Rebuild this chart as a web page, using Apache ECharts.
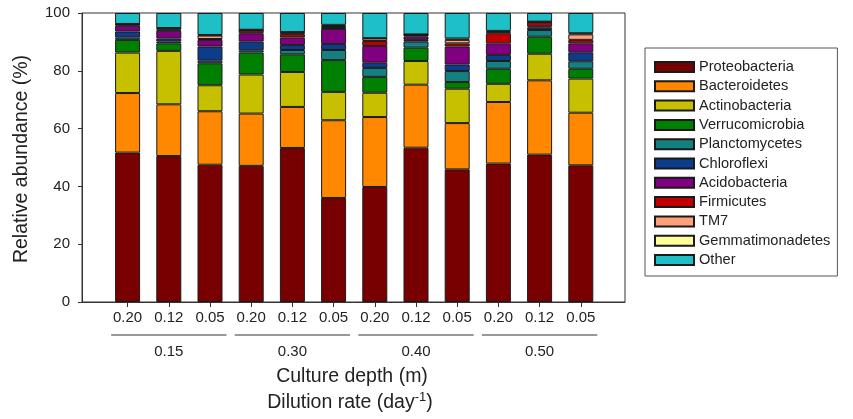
<!DOCTYPE html>
<html>
<head>
<meta charset="utf-8">
<script src="https://cdn.jsdelivr.net/npm/echarts@6/dist/echarts.min.js"></script>
<style>
  html, body { margin: 0; padding: 0; background: #fff; }
  #chart { width: 853px; height: 419px; }
</style>
</head>
<body>
<div id="chart"></div>
<script>
// Dilution rate (day-1) for each culture, grouped by culture depth (m)
const dilutionRates = ['0.20', '0.12', '0.05', '0.20', '0.12', '0.05', '0.20', '0.12', '0.05', '0.20', '0.12', '0.05'];
const depthGroups = ['0.15', '0.30', '0.40', '0.50'];
const depthRanges = [[0, 2], [3, 5], [6, 8], [9, 11]];

// Relative abundance (%) per phylum
const proteobacteria   = [51.7, 50.5, 47.5, 47.1, 53.3, 36.0, 39.8, 53.4, 45.9, 47.9, 51.0, 47.3];
const bacteroidetes    = [20.6, 17.9, 18.5, 18.1, 14.2, 26.9, 24.2, 21.8, 16.0, 21.3, 25.7, 18.2];
const actinobacteria   = [14.0, 18.5,  9.0, 13.5, 12.1,  9.8,  8.4,  8.2, 11.9,  6.3,  9.2, 11.8];
const verrucomicrobia  = [ 4.4,  2.6,  7.6,  7.6,  6.1, 11.0,  5.5,  4.6,  2.3,  5.2,  5.9,  3.4];
const planctomycetes   = [ 0.8,  0.6,  0.9,  0.8,  1.5,  3.5,  3.1,  2.1,  3.8,  2.7,  2.3,  2.6];
const chloroflexi      = [ 2.1,  1.1,  4.9,  3.0,  1.7,  2.1,  1.8,  0.6,  2.3,  2.1,  0.9,  3.1];
const acidobacteria    = [ 2.0,  2.7,  2.3,  2.9,  2.6,  5.2,  5.8,  1.1,  6.2,  4.0,  0.4,  3.1];
const firmicutes       = [ 0.4,  0.3,  0.3,  1.0,  1.2,  0.3,  1.7,  0.6,  1.1,  3.5,  1.4,  1.2];
const tm7              = [ 0.1,  0.5,  1.2,  0.1,  0.6,  0.7,  0.9,  0.1,  1.2,  0.5,  0.1,  1.9];
const gemmatimonadetes = [ 0.1,  0.1,  0.2,  0.1,  0.1,  0.4,  0.1,  0.1,  0.5,  0.3,  0.1,  0.4];
const other            = [ 3.8,  5.2,  7.6,  5.8,  6.6,  4.1,  8.7,  7.4,  8.8,  6.2,  3.0,  7.0];

const phyla = [
  { name: 'Proteobacteria',   data: proteobacteria,   color: '#780000' },
  { name: 'Bacteroidetes',    data: bacteroidetes,    color: '#ff8800' },
  { name: 'Actinobacteria',   data: actinobacteria,   color: '#c6c000' },
  { name: 'Verrucomicrobia',  data: verrucomicrobia,  color: '#008000' },
  { name: 'Planctomycetes',   data: planctomycetes,   color: '#158080' },
  { name: 'Chloroflexi',      data: chloroflexi,      color: '#0d3c8a' },
  { name: 'Acidobacteria',    data: acidobacteria,    color: '#800080' },
  { name: 'Firmicutes',       data: firmicutes,       color: '#c00000' },
  { name: 'TM7',              data: tm7,              color: '#ffa07a' },
  { name: 'Gemmatimonadetes', data: gemmatimonadetes, color: '#ffff99' },
  { name: 'Other',            data: other,            color: '#1fbfc8' }
];

const FONT = '"Liberation Sans", Arial, sans-serif';
const INK = '#222';

const chart = echarts.init(document.getElementById('chart'), null, { renderer: 'canvas' });

const barSeries = phyla.map(p => ({
  name: p.name,
  type: 'bar',
  xAxisIndex: 1,
  yAxisIndex: 1,
  stack: 'abundance',
  barWidth: 25,
  data: p.data,
  itemStyle: { color: p.color, borderColor: '#1a1a1a', borderWidth: 1 },
  emphasis: { disabled: true },
  animation: false
}));

// depth group rules and labels under the dilution-rate labels
const depthSeries = {
  type: 'custom',
  xAxisIndex: 1,
  yAxisIndex: 1,
  clip: false,
  silent: true,
  animation: false,
  encode: { x: 0, y: 1 },
  data: depthRanges,
  renderItem: function (params, api) {
    const s = api.coord([api.value(0), 0]);
    const e = api.coord([api.value(1), 0]);
    const band = api.size([1, 0])[0];
    const x1 = s[0] - band * 0.4;
    const x2 = e[0] + band * 0.4;
    const y = s[1];
    return {
      type: 'group',
      children: [
        { type: 'line', shape: { x1: x1, y1: y + 33, x2: x2, y2: y + 33 },
          style: { stroke: '#333', lineWidth: 1 } },
        { type: 'text', x: (x1 + x2) / 2, y: y + 50,
          style: { text: depthGroups[params.dataIndex], fill: INK, fontSize: 15,
                   fontFamily: FONT, align: 'center', verticalAlign: 'middle' } }
      ]
    };
  }
};

chart.setOption({
  animation: false,
  textStyle: { fontFamily: FONT },
  grid: [
    { left: 82, right: 228, top: 13, bottom: 117, show: true,
      borderColor: '#333', borderWidth: 1, backgroundColor: 'transparent' },
    { left: 107, right: 251.6, top: 13, bottom: 117 }
  ],
  xAxis: [
    { type: 'value', gridIndex: 0, min: 0, max: 1,
      axisLine: { show: true, lineStyle: { color: '#333' } },
      axisTick: { show: false }, axisLabel: { show: false }, splitLine: { show: false } },
    { type: 'category', gridIndex: 1, data: dilutionRates,
      axisLine: { show: false },
      axisTick: { show: true, alignWithLabel: true, length: 5, lineStyle: { color: '#333' } },
      axisLabel: { color: INK, fontSize: 15, fontFamily: FONT, margin: 8 },
      splitLine: { show: false } }
  ],
  yAxis: [
    { type: 'value', gridIndex: 0, min: 0, max: 100, interval: 20,
      axisLine: { show: true, lineStyle: { color: '#333' } },
      axisTick: { show: true, length: 4, lineStyle: { color: '#333' } },
      axisLabel: { color: INK, fontSize: 15, fontFamily: FONT, margin: 12 },
      splitLine: { show: false } },
    { type: 'value', gridIndex: 1, min: 0, max: 100, show: false }
  ],
  legend: {
    orient: 'vertical',
    left: 645,
    top: 48,
    padding: [11.5, 7, 8.5, 9],
    borderColor: '#555',
    borderWidth: 1,
    icon: 'rect',
    itemWidth: 39,
    itemHeight: 10,
    itemGap: 4.3,
    selectedMode: false,
    data: phyla.map(p => p.name),
    textStyle: { color: INK, fontSize: 14.6, fontFamily: FONT, lineHeight: 15 }
  },
  graphic: [
    { type: 'text', x: 22, y: 159, rotation: Math.PI / 2,
      style: { text: 'Relative abundance (%)', fill: INK, fontSize: 19.5, fontFamily: FONT,
               align: 'center', verticalAlign: 'middle' } },
    { type: 'text', x: 352, y: 377,
      style: { text: 'Culture depth (m)', fill: INK, fontSize: 19.5, fontFamily: FONT,
               align: 'center', verticalAlign: 'middle' } },
    { type: 'text', x: 350, y: 403,
      style: { text: '{a|Dilution rate (day}{s|-1}{a|)}', fill: INK, fontFamily: FONT,
               align: 'center', verticalAlign: 'middle',
               rich: {
                 a: { fontSize: 19.5, lineHeight: 24, fontFamily: FONT, fill: INK },
                 s: { fontSize: 13, lineHeight: 13, verticalAlign: 'top', fontFamily: FONT, fill: INK }
               } } }
  ],
  series: barSeries.concat([depthSeries])
});
</script>
</body>
</html>
